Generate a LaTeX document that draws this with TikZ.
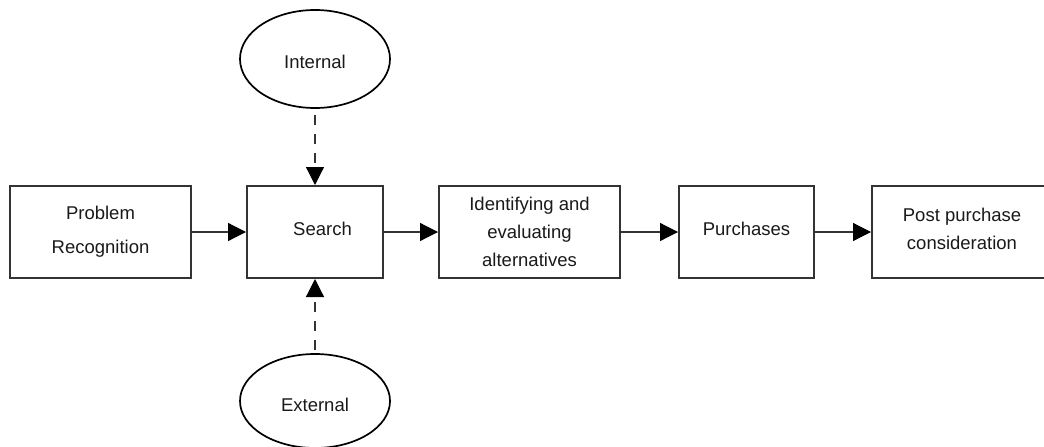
\documentclass[tikz,border=0pt]{standalone}
\usepackage{fontspec}
\setmainfont{Liberation Sans}
\usetikzlibrary{arrows.meta,shapes.geometric}
\definecolor{boxline}{HTML}{333333}
\definecolor{txt}{HTML}{1A1A1A}
\newcommand{\shiftup}[2]{\raisebox{#1}[\height][\depth]{#2}}
\begin{document}
\begin{tikzpicture}[x=1pt,y=-1pt,
  stagebox/.style={draw=boxline,line width=2pt,rectangle,inner sep=0pt,
    minimum height=92pt,align=center,text=txt,
    font=\fontsize{18.5}{28}\selectfont},
  sourceoval/.style={draw=black,line width=1.7pt,ellipse,inner sep=0pt,
    text=txt,font=\fontsize{18.5}{28}\selectfont},
  flow/.style={draw=boxline,line width=1.2pt,-{Triangle[length=18pt,width=18pt,color=black]}},
  dflow/.style={draw=boxline,line width=1.2pt,dash pattern=on 10pt off 9pt,
    -{Triangle[length=18pt,width=18pt,color=black]}}]
\clip (0,0) rectangle (1044,447);
\fill[white] (0,0) rectangle (1044,447);
\node[stagebox,minimum width=181pt] (pr) at (100.5,232)
  {Problem\\[6pt]Recognition};
\node[stagebox,minimum width=136pt] (search) at (315,232)
  {\shiftup{3.5pt}{\hspace*{15pt}Search}};
\node[stagebox,minimum width=181pt] (ident) at (529.5,232)
  {Identifying and\\evaluating\\alternatives};
\node[stagebox,minimum width=135pt] (purch) at (746.5,232)
  {\shiftup{3.5pt}{Purchases}};
\node[stagebox,minimum width=180pt] (post) at (962,232)
  {\shiftup{2pt}{\begin{tabular}{@{}c@{}}Post purchase\\consideration\end{tabular}}};
\node[sourceoval,minimum width=150pt,minimum height=98pt] (int) at (315,59)
  {\shiftup{-2.5pt}{Internal}};
\node[sourceoval,minimum width=150pt,minimum height=94pt] (ext) at (315,401)
  {\shiftup{-4pt}{External}};
\draw[flow] (pr) -- (search);
\draw[flow] (search) -- (ident);
\draw[flow] (ident) -- (purch);
\draw[flow] (purch) -- (post);
\draw[dflow,shorten <=6pt] (int) -- (search);
\draw[dflow,shorten <=3pt] (ext) -- (search);
\end{tikzpicture}
\end{document}
